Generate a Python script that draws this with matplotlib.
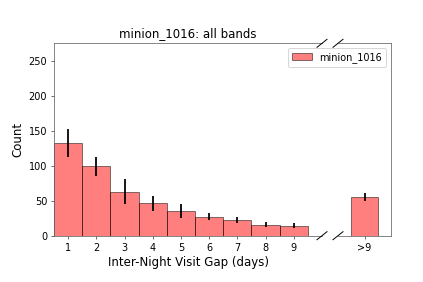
import matplotlib
matplotlib.use("Agg")
import matplotlib.pyplot as plt

gaps = [1, 2, 3, 4, 5, 6, 7, 8, 9]
counts = [133, 99, 63, 46.5, 35.5, 27, 22, 15.8, 14.3]
errs = [20, 13.5, 18, 10.7, 10, 5, 4.3, 4, 4]
tail_label = ">9"
tail_count = 55
tail_err = 6
title = "minion_1016: all bands"
label = "minion_1016"

fig = plt.figure(figsize=(6, 4), dpi=70.5)
W, H = 423, 282
ax1 = fig.add_axes([54 / W, (H - 235.7) / H, (322 - 54) / W, (235.7 - 43.3) / H])
ax2 = fig.add_axes([338 / W, (H - 235.7) / H, (391 - 338) / W, (235.7 - 43.3) / H])

bar_kw = dict(width=1.0, color="red", alpha=0.5, edgecolor="black", linewidth=1.0)
ax1.bar(gaps, counts, label=label, **bar_kw)
ax1.errorbar(gaps, counts, yerr=errs, fmt="none", ecolor="black", elinewidth=1.8)
ax2.bar([10], [tail_count], label=label, **bar_kw)
ax2.errorbar([10], [tail_count], yerr=[tail_err], fmt="none", ecolor="black", elinewidth=1.8)

ax1.set_xlim(0.5, 10)
ax2.set_xlim(9, 11)
for ax in (ax1, ax2):
    ax.set_ylim(0, 275)
    ax.tick_params(labelsize=10, color="0.3")
    for s in ax.spines.values():
        s.set_color("0.4")
ax1.set_xticks(gaps)
ax1.set_yticks([0, 50, 100, 150, 200, 250])
ax2.set_xticks([10])
ax2.set_xticklabels([tail_label])
ax2.set_yticks([])
ax1.spines["right"].set_visible(False)
ax2.spines["left"].set_visible(False)

ax1.set_title(title, fontsize=12)
ax1.set_xlabel("Inter-Night Visit Gap (days)", fontsize=12)
ax1.set_ylabel("Count", fontsize=12)
ax2.legend(loc="upper right", fontsize=10)

# break marks
dx, dy = 5 / W, 4 / H
for xc in (322 / W, 338 / W):
    for yc in ((H - 235.7) / H, (H - 43.3) / H):
        fig.add_artist(plt.Line2D([xc - dx, xc + dx], [yc - dy, yc + dy],
                                  transform=fig.transFigure, color="k", linewidth=1.0))

fig.savefig("out.png", dpi=70.5)
